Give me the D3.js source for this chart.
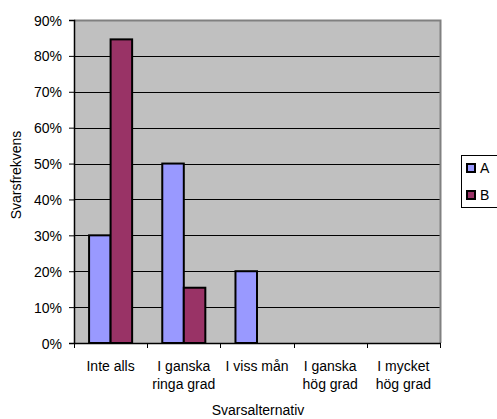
<!DOCTYPE html>
<html>
<head>
<meta charset="utf-8">
<script src="https://cdn.jsdelivr.net/npm/d3@7"></script>
<style>
  html, body { margin: 0; padding: 0; background: #ffffff; overflow: hidden; }
  svg { display: block; }
  text { font-family: "Liberation Sans", Arial, sans-serif; fill: #000; }
</style>
</head>
<body>
<script>
// Answer categories (two-line labels) and the share per group
const categories = [
  ["Inte alls"],
  ["I ganska", "ringa grad"],
  ["I viss mån"],
  ["I ganska", "hög grad"],
  ["I mycket", "hög grad"]
];
const seriesNames = ["A", "B"];
const valuesA = [0.30, 0.50, 0.20, 0, 0];
const valuesB = [0.846, 0.154, 0, 0, 0];
const yTicks = [0, 0.1, 0.2, 0.3, 0.4, 0.5, 0.6, 0.7, 0.8, 0.9];
const seriesColors = ["#9999ff", "#993366"];

const W = 497, H = 419;
const plot = { left: 74, right: 440, top: 20, bottom: 343 };
const FS = "14px";

const svg = d3.select("body").append("svg").attr("width", W).attr("height", H);

const catIdx = d3.range(categories.length);
const x = d3.scaleBand().domain(catIdx).range([plot.left, plot.right]).paddingInner(0).paddingOuter(0);
const xs = d3.scaleBand().domain(seriesNames).range([0, x.bandwidth()]).paddingInner(0).paddingOuter(0.7);
const y = d3.scaleLinear().domain([0, 0.9]).range([plot.bottom, plot.top]);

// Plot area background
svg.append("rect")
  .attr("x", plot.left).attr("y", plot.top)
  .attr("width", plot.right - plot.left).attr("height", plot.bottom - plot.top)
  .attr("fill", "#c0c0c0");

// Horizontal gridlines
svg.append("g").selectAll("line")
  .data(yTicks.filter(d => d > 0 && d < 0.9))
  .join("line")
  .attr("x1", plot.left).attr("x2", plot.right)
  .attr("y1", d => Math.round(y(d)) + 0.5).attr("y2", d => Math.round(y(d)) + 0.5)
  .attr("stroke", "#000").attr("stroke-width", 1);

// Plot frame (gray top and right edges)
svg.append("path")
  .attr("d", `M${plot.left},${plot.top + 0.5}H${plot.right + 0.5}V${plot.bottom}`)
  .attr("fill", "none").attr("stroke", "#808080").attr("stroke-width", 2);

// Bars
const series = [valuesA, valuesB];
const gBars = svg.append("g");
series.forEach((vals, si) => {
  gBars.selectAll(null)
    .data(vals.map((v, i) => ({ v, i })).filter(d => d.v > 0))
    .join("rect")
    .attr("x", d => x(d.i) + xs(seriesNames[si]))
    .attr("y", d => y(d.v))
    .attr("width", xs.bandwidth())
    .attr("height", d => y(0) - y(d.v))
    .attr("fill", seriesColors[si])
    .attr("stroke", "#000").attr("stroke-width", 2);
});

// Y axis
const yAxis = d3.axisLeft(y).tickValues(yTicks).tickFormat(d3.format(".0%")).tickSizeOuter(0).tickSize(5).tickPadding(7);
const gy = svg.append("g").attr("transform", `translate(${plot.left},0)`).call(yAxis);
gy.select(".domain").attr("stroke", "#000").attr("stroke-width", 1.5);
gy.selectAll(".tick line").attr("stroke", "#000");
gy.selectAll(".tick text").attr("font-size", FS).attr("font-family", "Liberation Sans, Arial, sans-serif").attr("dy", "0.36em");

// X axis (ticks at category boundaries)
const xEdges = catIdx.map(i => x(i)).concat([plot.right]);
const gx = svg.append("g");
gx.append("line").attr("x1", plot.left).attr("x2", plot.right + 1)
  .attr("y1", plot.bottom + 0.5).attr("y2", plot.bottom + 0.5)
  .attr("stroke", "#000").attr("stroke-width", 1.5);
gx.selectAll(".xt").data(xEdges).join("line")
  .attr("x1", d => Math.round(d) + 0.5).attr("x2", d => Math.round(d) + 0.5)
  .attr("y1", plot.bottom).attr("y2", plot.bottom + 5)
  .attr("stroke", "#000");

// Category labels
gx.selectAll(".xl").data(categories).join("text")
  .attr("text-anchor", "middle")
  .attr("font-size", FS)
  .attr("transform", (d, i) => `translate(${x(i) + x.bandwidth() / 2},371)`)
  .selectAll("tspan").data(d => d).join("tspan")
  .attr("x", 0).attr("y", (d, j) => j * 18)
  .text(d => d);

// Axis titles
svg.append("text")
  .attr("x", 258).attr("y", 415)
  .attr("text-anchor", "middle").attr("font-size", FS)
  .text("Svarsalternativ");
svg.append("text")
  .attr("transform", "translate(21,175) rotate(-90)")
  .attr("text-anchor", "middle").attr("font-size", FS)
  .text("Svarsfrekvens");

// Legend
const leg = svg.append("g");
leg.append("rect")
  .attr("x", 461.5).attr("y", 155.5).attr("width", 40).attr("height", 52)
  .attr("fill", "#fff").attr("stroke", "#000").attr("stroke-width", 1);
seriesNames.forEach((name, i) => {
  const cy = 168 + i * 27;
  leg.append("rect")
    .attr("x", 467).attr("y", cy - 4).attr("width", 8).attr("height", 8)
    .attr("fill", seriesColors[i]).attr("stroke", "#000").attr("stroke-width", 2);
  leg.append("text")
    .attr("x", 480).attr("y", cy + 5)
    .attr("font-size", FS)
    .text(name);
});
</script>
</body>
</html>
